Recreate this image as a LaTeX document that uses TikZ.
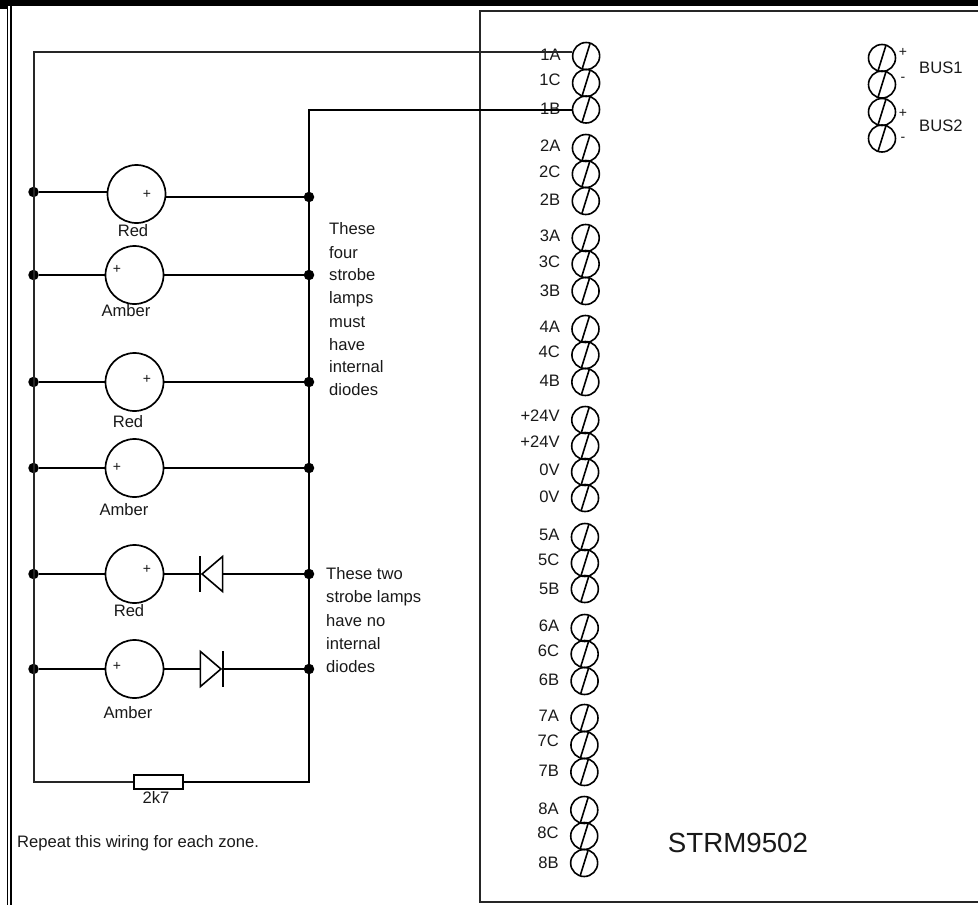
\documentclass[tikz,border=0pt]{standalone}
\usepackage{fontspec}
\setmainfont{Liberation Sans}
\usetikzlibrary{shapes.geometric}

\begin{document}
\begin{tikzpicture}[
    x=1pt, y=-1pt,
    font=\fontsize{16.6}{19}\selectfont,
    txt/.style={text=black!90, inner sep=0pt},
    note/.style={txt, anchor=west},
    wire/.style={draw=black, line width=2pt},
    busl/.style={draw=black!85, line width=2pt},
    lamp/.style={circle, draw=black, line width=1.7pt, minimum size=58pt, inner sep=0pt},
    joint/.style={circle, fill=black, minimum size=10.5pt, inner sep=0pt},
    term/.style={circle, draw=black, line width=1.6pt, minimum size=27pt, inner sep=0pt,
      path picture={\draw[line width=1.6pt] ([xshift=-4.2pt]path picture bounding box.south) -- ([xshift=4.2pt]path picture bounding box.north);}},
    diode/.style={isosceles triangle, isosceles triangle stretches, draw=black, line width=1.6pt,
      minimum width=35pt, minimum height=20.5pt, inner sep=0pt},
    res/.style={rectangle, draw=black, line width=1.6pt, minimum width=49pt, minimum height=14pt, inner sep=0pt},
  ]
    \useasboundingbox (0,0) rectangle (978,905);

    % page frame left over from the screenshot
    \fill[black] (0,0) rectangle (978,5.5);
    \fill[black] (0,5.5) rectangle (8,9);
    \draw[black, line width=1.5pt] (7.5,9) -- (7.5,905);
    \draw[black, line width=2pt] (11,5) -- (11,905);
    \draw[black!85, line width=2pt] (978,10.5) -- (480,10.5) -- (480,902) -- (978,902);

    % terminals of the module
    \foreach \id/\txt/\y/\ly in {
        1A/1A/56/55, 1C/1C/83/80, 1B/1B/109.5/109,
        2A/2A/148/146, 2C/2C/174/172, 2B/2B/201/200,
        3A/3A/238/236, 3C/3C/264/262, 3B/3B/291/291,
        4A/4A/329/327, 4C/4C/355/352, 4B/4B/382/381,
        pa/+24V/420/416, pb/+24V/446/442, za/0V/472/470, zb/0V/498/497,
        5A/5A/537/535, 5C/5C/563/560, 5B/5B/589/589,
        6A/6A/628/626, 6C/6C/654/651, 6B/6B/681/680,
        7A/7A/718/716, 7C/7C/745/741, 7B/7B/772/771,
        8A/8A/810/809, 8C/8C/836/833, 8B/8B/863/863} {
      \node[term] (t\id) at ({586.3-\y/400},\y) {};
      \node[txt, anchor=east] (l\id) at ({561-\y/400},\ly) {\txt};
    }

    \node[term] (bus1p) at (882,58) {};
    \node[term] (bus1m) at (882,84.5) {};
    \node[term] (bus2p) at (882,112) {};
    \node[term] (bus2m) at (882,138.5) {};
    \node[txt, font=\fontsize{14}{16}\selectfont] (s1p) at (903,52) {+};
    \node[txt, font=\fontsize{14}{16}\selectfont] (s1m) at (903,79) {-};
    \node[txt, font=\fontsize{14}{16}\selectfont] (s2p) at (903,113) {+};
    \node[txt, font=\fontsize{14}{16}\selectfont] (s2m) at (903,139) {-};
    \node[note] (bus1) at (919,68) {BUS1};
    \node[note] (bus2) at (919,126) {BUS2};
    \node[txt, font=\fontsize{27.7}{30}\selectfont] (strm) at (738,843) {STRM9502};

    % strobe lamps
    \node[lamp] (lampa) at (136.5,194) {};
    \node[lamp] (lampb) at (134.5,275) {};
    \node[lamp] (lampc) at (134.5,382) {};
    \node[lamp] (lampd) at (134.5,468) {};
    \node[lamp] (lampe) at (134.5,574) {};
    \node[lamp] (lampf) at (134.5,669) {};

    \node[txt] (reda) at (133,231) {Red};
    \node[txt] (ambb) at (126,311) {Amber};
    \node[txt] (redc) at (128,422) {Red};
    \node[txt] (ambd) at (124,510) {Amber};
    \node[txt] (rede) at (129,611) {Red};
    \node[txt] (ambf) at (128,713) {Amber};

    \node[txt, font=\fontsize{14}{16}\selectfont] (pla) at (147,194) {+};
    \node[txt, font=\fontsize{14}{16}\selectfont] (plb) at (117,269) {+};
    \node[txt, font=\fontsize{14}{16}\selectfont] (plc) at (147,379) {+};
    \node[txt, font=\fontsize{14}{16}\selectfont] (pld) at (117,467) {+};
    \node[txt, font=\fontsize{14}{16}\selectfont] (ple) at (147,569) {+};
    \node[txt, font=\fontsize{14}{16}\selectfont] (plf) at (117,666) {+};

    \foreach \n/\yl/\yr in {a/192/197, b/275/275, c/382/382, d/468/468, e/574/574, f/669/669} {
      \node[joint] (jl\n) at (33.5,\yl) {};
      \node[joint] (jr\n) at (309,\yr) {};
    }

    \node[diode, shape border rotate=180] (dioe) at (214.5,574) {};
    \node[diode] (diof) at (208.5,669) {};
    \node[res] (rload) at (158.5,782) {};
    \node[txt] (rval) at (156,797) {2k7};

    \coordinate (cnl) at (t1A.165 -| jla);
    \coordinate (cnr) at (t1B.west -| jra);
    \coordinate (cbl) at (jlf |- rload.west);
    \coordinate (cbr) at (jrf |- rload.east);

    % the two long wires out to terminals 1A and 1B
    \draw[busl] (t1A.165) -- (cnl) -- (jlf.center) -- (cbl) -- (rload.west);
    \draw[wire] (t1B.west) -- (cnr) -- (jrf.center) -- (cbr) -- (rload.east);

    \draw[wire] (jla) -- (jla -| lampa.west);
    \draw[wire] (jra) -- (jra -| lampa.east);
    \draw[wire] (jlb) -- (lampb);
    \draw[wire] (jrb) -- (lampb);
    \draw[wire] (jlc) -- (lampc);
    \draw[wire] (jrc) -- (lampc);
    \draw[wire] (jld) -- (lampd);
    \draw[wire] (jrd) -- (lampd);
    \draw[wire] (jle) -- (lampe);
    \draw[wire] (lampe) -- (dioe.apex);
    \draw[wire] (dioe.lower side) -- (jre);
    \draw[wire] (jlf) -- (lampf);
    \draw[wire] (lampf) -- (diof.lower side);
    \draw[wire] (diof.apex) -- (jrf);
    \draw[line width=1.6pt] ([yshift=18pt]dioe.apex) -- ([yshift=-18pt]dioe.apex);
    \draw[line width=1.6pt] ([yshift=18pt]diof.apex) -- ([yshift=-18pt]diof.apex);

    % notes
    \node[note] (na) at (329,229) {These};
    \node[note] (nb) at (329,253) {four};
    \node[note] (nc) at (329,275) {strobe};
    \node[note] (nd) at (329,299) {lamps};
    \node[note] (ne) at (329,322) {must};
    \node[note] (nf) at (329,345) {have};
    \node[note] (ng) at (329,367) {internal};
    \node[note] (nh) at (329,390) {diodes};

    \node[note] (ma) at (326,574) {These two};
    \node[note] (mb) at (326,598) {strobe lamps};
    \node[note] (mc) at (326,621) {have no};
    \node[note] (md) at (326,644) {internal};
    \node[note] (me) at (326,667) {diodes};

    \node[note] (rep) at (17,843) {Repeat this wiring for each zone.};
  \end{tikzpicture}
\end{document}
